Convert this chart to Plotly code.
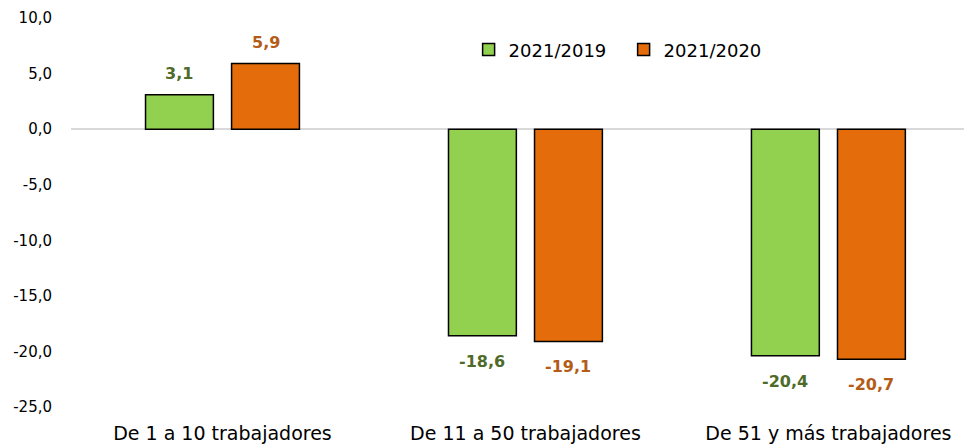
import plotly.graph_objects as go

categories = ["De 1 a 10 trabajadores", "De 11 a 50 trabajadores", "De 51 y más trabajadores"]
series_names = ["2021/2019", "2021/2020"]
v_2019 = [3.1, -18.6, -20.4]
v_2020 = [5.9, -19.1, -20.7]
y_ticks = [10, 5, 0, -5, -10, -15, -20, -25]
y_ticktext = [f"{t:.1f}".replace(".", ",") for t in y_ticks]

bar_colors = ["#92D050", "#E46C0A"]
label_colors = ["#4F6B2A", "#B45C17"]

fig = go.Figure()
offsets = [-0.254, 0.030]
width = 0.224
for name, vals, col, off in zip(series_names, [v_2019, v_2020], bar_colors, offsets):
    fig.add_trace(go.Bar(
        x=categories, y=vals, name=name,
        marker=dict(color=col, line=dict(color="black", width=1.5)),
        width=width, offset=off,
    ))

annotations = []
for vals, lc, off in zip([v_2019, v_2020], label_colors, offsets):
    for i, v in enumerate(vals):
        xs = (off + width / 2) * 303
        annotations.append(dict(
            x=categories[i], y=v, xref="x", yref="y",
            text=f"{v:.1f}".replace(".", ","),
            showarrow=False, xshift=xs,
            yanchor="bottom" if v >= 0 else "top",
            yshift=10 if v >= 0 else -14,
            font=dict(family="DejaVu Sans", size=16, color=lc, weight="bold"),
        ))

fig.update_layout(
    width=964, height=437,
    margin=dict(l=63, r=0, t=10, b=38, autoexpand=False),
    paper_bgcolor="white", plot_bgcolor="white",
    showlegend=True,
    legend=dict(orientation="h", x=0.4413, y=0.918, xanchor="left", yanchor="middle",
                font=dict(family="DejaVu Sans", size=18, color="#000000"),
                bgcolor="rgba(0,0,0,0)", itemwidth=30, entrywidth=110, entrywidthmode="pixels"),
    annotations=annotations,
)
fig.update_xaxes(
    type="category", range=[-0.5, 2.474],
    showgrid=False, showline=False, ticks="", zeroline=False,
    tickfont=dict(family="DejaVu Sans", size=19, color="#000000"),
    ticklabelstandoff=13, automargin=False,
)
fig.update_yaxes(
    range=[-25, 10], tickvals=y_ticks, ticktext=y_ticktext,
    showgrid=False, showline=False, ticks="",
    zeroline=True, zerolinecolor="#D9D9D9", zerolinewidth=2,
    tickfont=dict(family="DejaVu Sans", size=15, color="#000000"),
    ticklabelstandoff=18, automargin=False,
)
fig.write_html("out.html")
